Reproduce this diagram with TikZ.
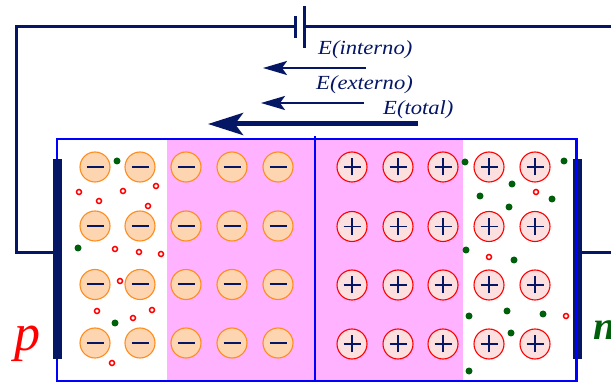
\documentclass[tikz,border=0pt]{standalone}
\usepackage{fontspec}
\setmainfont{Liberation Serif}
\usetikzlibrary{arrows.meta}
\definecolor{navy}{RGB}{5,22,100}
\definecolor{boxblue}{RGB}{0,0,255}
\definecolor{junction}{RGB}{255,178,255}
\definecolor{peach}{RGB}{253,213,176}
\definecolor{ionorange}{RGB}{255,140,30}
\definecolor{rosy}{RGB}{252,224,224}
\definecolor{carrier}{RGB}{0,95,10}
\begin{document}
\begin{tikzpicture}[x=1pt,y=-1pt,
  wire/.style={draw=navy,line width=3pt},
  plate/.style={fill=navy,draw=none,minimum width=9pt,minimum height=200pt,inner sep=0pt},
  negion/.style={circle,draw=ionorange,fill=peach,line width=1.1pt,minimum size=30pt,inner sep=0pt,
    path picture={\draw[navy,line width=2pt]
      ([xshift=-8.5pt]path picture bounding box.center) -- ([xshift=8.5pt]path picture bounding box.center);}},
  posion/.style={circle,draw=red,fill=rosy,line width=1.1pt,minimum size=30pt,inner sep=0pt,
    path picture={\draw[navy,line width=1.8pt]
      ([xshift=-8.5pt]path picture bounding box.center) -- ([xshift=8.5pt]path picture bounding box.center)
      ([yshift=-8.5pt]path picture bounding box.center) -- ([yshift=8.5pt]path picture bounding box.center);}},
  hole/.style={circle,draw=red,line width=1.5pt,minimum size=5pt,inner sep=0pt},
  electron/.style={circle,fill=carrier,minimum size=7pt,inner sep=0pt},
  field/.style={draw=navy,line width=2.2pt,-{Stealth[length=24pt,width=14pt,inset=5pt]}},
  fieldtotal/.style={draw=navy,line width=5pt,-{Stealth[length=35pt,width=22pt,inset=8pt]}},
  flabel/.style={text=navy,inner sep=0pt,anchor=base west,font=\fontsize{20}{24}\selectfont\itshape}
]
\useasboundingbox (0,0) rectangle (611,382);

% depletion region
\fill[junction] (167,139) rectangle (463,381);

% fixed ions: acceptors (p side) and donors (n side)
\foreach \x [count=\i] in {95,140,186,232,278}
  \foreach \y [count=\j] in {167,226,284.5,343}
    \node[negion] (neg-\i-\j) at (\x,\y) {};
\foreach \x [count=\i] in {352,398,443,489,535}
  \foreach \y [count=\j] in {167,226.5,285,344}
    \node[posion] (pos-\i-\j) at (\x,\y) {};

% free carriers, p side
\foreach \p [count=\k] in {(117,161),(78,248),(115,323)}
  \node[electron] (pe-\k) at \p {};
\foreach \p [count=\k] in {(79,192),(99,201),(123,191),(156,186),(148,206),(115,249),(139,252),(161,254),
                          (120,281),(97,311),(133,318),(152,310),(112,363)}
  \node[hole] (ph-\k) at \p {};

% free carriers, n side
\foreach \p [count=\k] in {(465,162),(564,161),(512,184),(480,196),(552,199),(509,207),(466,250),(514,260),
                          (469,316),(507,311),(543,314),(511,333),(469,371)}
  \node[electron] (ne-\k) at \p {};
\foreach \p [count=\k] in {(536,192),(489,257),(566,316)}
  \node[hole] (nh-\k) at \p {};

% contact plate, n side
\node[plate] (nplate) at (577.5,259) {};

% crystal outline and junction plane
\draw[boxblue,line width=2.8pt] (57,139) rectangle (576.5,381);
\draw[boxblue,line width=2pt] (315,136) -- (315,381);

% contact plate, p side
\node[plate] (pplate) at (57.5,259) {};

% battery
\coordinate (bneg) at (295,27);
\coordinate (bpos) at (304,27);
\draw[navy,line width=3pt] (295,16) -- (295,38);
\draw[navy,line width=3pt] (304,6) -- (304,48);

% external circuit
\coordinate (cornerL) at (16,253);
\coordinate (edgeT) at (611,27);
\coordinate (edgeR) at (611,253);
\draw[wire] (bneg) -| (cornerL) -- (pplate.west |- cornerL);
\draw[wire] (bpos) -- (edgeT);
\draw[wire] (nplate.east |- edgeR) -- (edgeR);

% field vectors
\coordinate (fi-a) at (366,68);  \coordinate (fi-b) at (263,68);
\coordinate (fe-a) at (364,103); \coordinate (fe-b) at (261,103);
\coordinate (ft-a) at (418,124); \coordinate (ft-b) at (208,124);
\draw[field] (fi-a) -- (fi-b);
\draw[field] (fe-a) -- (fe-b);
\draw[fieldtotal] (ft-a) -- (ft-b);
\node[flabel] (li) at (318,55) {\scalebox{1.13}[1]{E(interno)}};
\node[flabel] (le) at (316,90) {\scalebox{1.13}[1]{E(externo)}};
\node[flabel] (lt) at (383,115) {\scalebox{1.13}[1]{E(total)}};

% region labels
\node[text=red,inner sep=0pt,anchor=base,font=\fontsize{52}{60}\selectfont\itshape] (plabel) at (27,350) {p};
\begin{scope}
  \clip (0,0) rectangle (611,382);
  \node[text=carrier,inner sep=0pt,anchor=base west,font=\fontsize{40}{48}\selectfont\itshape\bfseries] (nlabel) at (593,339) {n};
\end{scope}
\end{tikzpicture}
\end{document}
